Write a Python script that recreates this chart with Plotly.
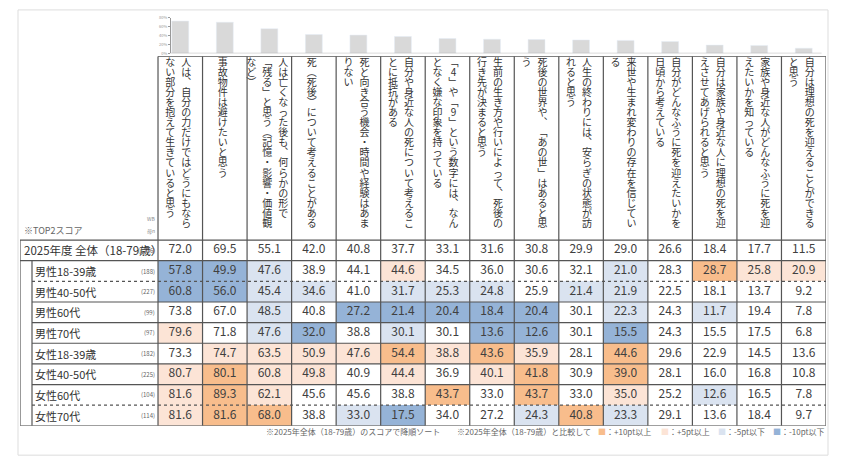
import plotly.graph_objects as go

# ---- data ----
headers = [
    ["人は、自分の力だけではどうにもなら", "ない部分を抱えて生きていると思う"],
    ["事故物件は避けたいと思う"],
    ["人は亡くなった後も、何らかの形で", "「残る」と思う（記憶・影響・価値観", "など）"],
    ["死（死後）について考えることがある"],
    ["死と向き合う機会・時間や経験はあま", "りない"],
    ["自分や身近な人の死について考えるこ", "とに抵抗がある"],
    ["「4」や「9」という数字には、なん", "となく嫌な印象を持っている"],
    ["生前の生き方や行いによって、死後の", "行き先が決まると思う"],
    ["死後の世界や、「あの世」はあると思", "う"],
    ["人生の終わりには、安らぎの状態が訪", "れると思う"],
    ["来世や生まれ変わりの存在を信じてい", "る"],
    ["自分がどんなふうに死を迎えたいかを", "日頃から考えている"],
    ["自分は家族や身近な人に理想の死を迎", "えさせてあげられると思う"],
    ["家族や身近な人がどんなふうに死を迎", "えたいかを知っている"],
    ["自分は理想の死を迎えることができる", "と思う"],
]

row_labels = ["2025年度 全体（18-79歳）", "男性18-39歳", "男性40-50代", "男性60代", "男性70代",
              "女性18-39歳", "女性40-50代", "女性60代", "女性70代"]
sample_n = [1236, 188, 227, 99, 97, 182, 225, 104, 114]

total = [72.0, 69.5, 55.1, 42.0, 40.8, 37.7, 33.1, 31.6, 30.8, 29.9, 29.0, 26.6, 18.4, 17.7, 11.5]
male_18_39 = [57.8, 49.9, 47.6, 38.9, 44.1, 44.6, 34.5, 36.0, 30.6, 32.1, 21.0, 28.3, 28.7, 25.8, 20.9]
male_40_50 = [60.8, 56.0, 45.4, 34.6, 41.0, 31.7, 25.3, 24.8, 25.9, 21.4, 21.9, 22.5, 18.1, 13.7, 9.2]
male_60 = [73.8, 67.0, 48.5, 40.8, 27.2, 21.4, 20.4, 18.4, 20.4, 30.1, 22.3, 24.3, 11.7, 19.4, 7.8]
male_70 = [79.6, 71.8, 47.6, 32.0, 38.8, 30.1, 30.1, 13.6, 12.6, 30.1, 15.5, 24.3, 15.5, 17.5, 6.8]
female_18_39 = [73.3, 74.7, 63.5, 50.9, 47.6, 54.4, 38.8, 43.6, 35.9, 28.1, 44.6, 29.6, 22.9, 14.5, 13.6]
female_40_50 = [80.7, 80.1, 60.8, 49.8, 40.9, 44.4, 36.9, 40.1, 41.8, 30.9, 39.0, 28.1, 16.0, 16.8, 10.8]
female_60 = [81.6, 89.3, 62.1, 45.6, 45.6, 38.8, 43.7, 33.0, 43.7, 33.0, 35.0, 25.2, 12.6, 16.5, 7.8]
female_70 = [81.6, 81.6, 68.0, 38.8, 33.0, 17.5, 34.0, 27.2, 24.3, 40.8, 23.3, 29.1, 13.6, 18.4, 9.7]

rows = [total, male_18_39, male_40_50, male_60, male_70,
        female_18_39, female_40_50, female_60, female_70]

FONT = "Noto Sans CJK JP"
TXT = "#404040"
LINE = "#555555"
C_UP2, C_UP1, C_DN1, C_DN2 = "#F8BD8C", "#FCE4D6", "#DAE3F0", "#95B3D7"

W, H = 843, 470
NCOL = len(total)
PX_UNIT = 44.53     # pixels per column
ROW_PX = 20.9       # pixels per row


def px_x(p):
    return p / W


def px_y(p):
    return 1 - p / H


def code(v, base):
    d = v - base
    if d >= 10:
        return 2
    if d >= 5:
        return 1
    if d <= -10:
        return -2
    if d <= -5:
        return -1
    return 0


fig = go.Figure()

# cell fills
z = [[code(v, total[i]) for i, v in enumerate(r)] for r in rows]
z[0] = [0] * NCOL
fig.add_trace(go.Heatmap(
    z=z, x=[i + 0.5 for i in range(NCOL)], y=[j + 0.5 for j in range(len(rows))],
    zmin=-2, zmax=2, showscale=False, hoverinfo="skip",
    colorscale=[[0, C_DN2], [0.2, C_DN2], [0.2, C_DN1], [0.4, C_DN1], [0.4, "white"],
                [0.6, "white"], [0.6, C_UP1], [0.8, C_UP1], [0.8, C_UP2], [1, C_UP2]],
))

# values
xs, ys, ts = [], [], []
for j, r in enumerate(rows):
    for i, v in enumerate(r):
        xs.append(i + 0.5); ys.append(j + 0.5); ts.append(f"{v:.1f}")
fig.add_trace(go.Scatter(x=xs, y=ys, text=ts, mode="text", hoverinfo="skip",
                         textfont=dict(family=FONT, size=12, color=TXT)))

# vertical header text, one glyph per point
vert = {"、": "︑", "「": "﹁", "」": "﹂", "（": "︵", "）": "︶", "ー": "︱"}
hx, hy, ht = [], [], []
for i, lines in enumerate(headers):
    n = len(lines)
    for j, line in enumerate(lines):
        x = i + 0.5 - 2 / PX_UNIT + ((n - 1) / 2 - j) * 16 / PX_UNIT
        for k, ch in enumerate(line):
            hx.append(x)
            hy.append((60 + 10.2 * k - 239) / ROW_PX)
            ht.append(vert.get(ch, ch))
fig.add_trace(go.Scatter(x=hx, y=hy, text=ht, mode="text", hoverinfo="skip",
                         textfont=dict(family=FONT, size=10, color="#333333")))

# mini bar chart on top
fig.add_trace(go.Bar(x=[i + 0.5 for i in range(NCOL)], y=total, width=0.38,
                     marker_color="#D9D9D9", xaxis="x", yaxis="y2", hoverinfo="skip"))

# row labels
x_left = (22 - 158) / PX_UNIT
x_sub = (33 - 158) / PX_UNIT
for j, lab in enumerate(row_labels):
    fig.add_annotation(x=x_left if j == 0 else x_sub, y=j + 0.5, text=lab, xanchor="left",
                       showarrow=False, font=dict(family=FONT, size=11.5 if j == 0 else 11, color="#333"))
    fig.add_annotation(x=-0.03, y=j + 0.5, text=f"({sample_n[j]})", xanchor="right",
                       showarrow=False, font=dict(family=FONT, size=6, color="#666"))
fig.add_annotation(x=x_left, y=(229 - 239) / ROW_PX, text="※TOP2スコア", xanchor="left",
                   showarrow=False, font=dict(family=FONT, size=9, color="#666"))
fig.add_annotation(x=-0.03, y=(217 - 239) / ROW_PX, text="WB", xanchor="right",
                   showarrow=False, font=dict(family=FONT, size=5, color="#888"))
fig.add_annotation(x=-0.03, y=(230 - 239) / ROW_PX, text="母n", xanchor="right",
                   showarrow=False, font=dict(family=FONT, size=5, color="#888"))

# grid lines
x_end = NCOL
x_indent = (32 - 158) / PX_UNIT
x_edge = (20 - 158) / PX_UNIT
y_head = (53 - 239) / ROW_PX
nrows = len(rows)


def hline(y, x0, x1, dash="solid", width=1.2):
    fig.add_shape(type="line", xref="x", yref="y", x0=x0, x1=x1, y0=y, y1=y,
                  line=dict(color=LINE, width=width, dash=dash))


def vline(x, y0, y1):
    fig.add_shape(type="line", xref="x", yref="y", x0=x, x1=x, y0=y0, y1=y1,
                  line=dict(color=LINE, width=1.2))


hline(y_head, 0, x_end)
hline(0, x_edge, x_end)
hline(1, x_edge, x_end)
hline(nrows, x_edge, x_end)
for j in range(2, nrows):
    hline(j, x_indent, x_end, dash="dot" if j in (2, 8) else "solid")
for i in range(NCOL + 1):
    vline(i, y_head, nrows)
vline(x_edge, 0, nrows)
vline(x_indent, 1, nrows)

# mini chart baseline
fig.add_shape(type="line", xref="x", yref="y2", x0=(170 - 158) / PX_UNIT, x1=x_end - 0.1,
              y0=0, y1=0, line=dict(color="#999", width=1))
# outer light frame
fig.add_shape(type="rect", xref="paper", yref="paper", x0=px_x(18), x1=px_x(828),
              y0=px_y(457), y1=px_y(6), line=dict(color="#DDDDDD", width=1))

# footer notes
notes = [
    (264, "※2025年全体（18-79歳）のスコアで降順ソート"),
    (455, "※2025年全体（18-79歳）と比較して"),
    (596, f"<span style='color:{C_UP2}'>■</span>：+10pt以上"),
    (659, f"<span style='color:{C_UP1}'>■</span>：+5pt以上"),
    (716, f"<span style='color:{C_DN1}'>■</span>：-5pt以下"),
    (771, f"<span style='color:{C_DN2}'>■</span>：-10pt以下"),
]
for px, t in notes:
    fig.add_annotation(x=px_x(px), y=px_y(441), xref="paper", yref="paper", text=t, xanchor="left",
                       showarrow=False, font=dict(family=FONT, size=8, color="#666"))

fig.update_layout(
    width=W, height=H, margin=dict(l=0, r=0, t=0, b=0),
    paper_bgcolor="white", plot_bgcolor="rgba(0,0,0,0)", showlegend=False,
    xaxis=dict(range=[x_edge, x_end], domain=[px_x(20), px_x(826)],
               visible=False, fixedrange=True),
    yaxis=dict(range=[nrows, y_head], domain=[px_y(427.3), px_y(53)],
               visible=False, fixedrange=True),
    yaxis2=dict(range=[0, 80], domain=[px_y(50), px_y(13.7)], anchor="free",
                position=px_x(170), showline=True, linecolor="#999", linewidth=1,
                ticks="outside", ticklen=2, tickcolor="#999", showgrid=False,
                tickvals=[0, 20, 40, 60, 80], ticktext=["0%", "20%", "40%", "60%", "80%"],
                tickfont=dict(family=FONT, size=4, color="#999"), fixedrange=True),
)

# drop the default page margin so the figure sits at the window origin
fig.write_html("out.html", config={"displayModeBar": False},
               post_script="document.body.style.margin='0';")
